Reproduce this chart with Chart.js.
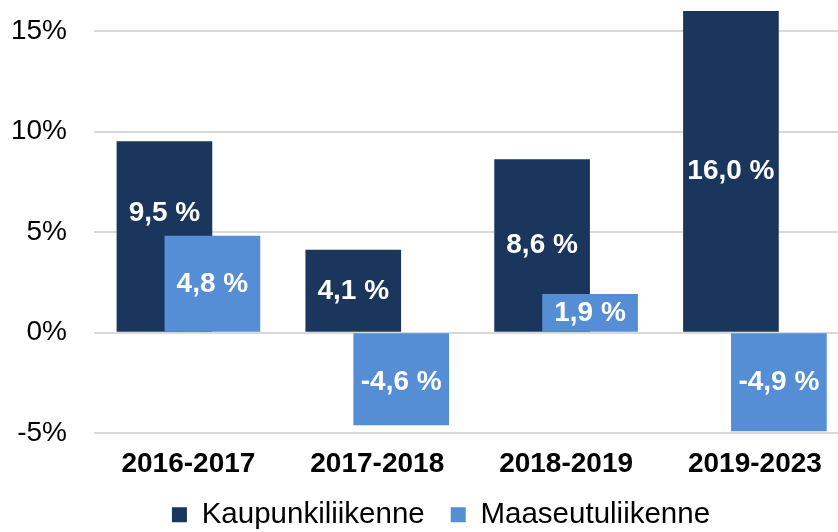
<!DOCTYPE html>
<html>
<head>
<meta charset="utf-8">
<script src="https://cdn.jsdelivr.net/npm/chart.js@4.4.1/dist/chart.umd.min.js"></script>
<style>
html,body{margin:0;padding:0;background:#fff;}
#wrap{width:838px;height:532px;position:relative;}
</style>
</head>
<body>
<div id="wrap"><canvas id="c"></canvas></div>
<script>
const categories = ['2016-2017', '2017-2018', '2018-2019', '2019-2023'];
const seriesNames = ['Kaupunkiliikenne', 'Maaseutuliikenne'];
const kaupunki = [9.5, 4.1, 8.6, 16.0];
const maaseutu = [4.8, -4.6, 1.9, -4.9];
const yTicks = [-5, 0, 5, 10, 15];

const DARK = '#1a365d';
const LIGHT = '#558ed5';
const SHIFT = 0.127;
const FONT = '"Liberation Sans", Arial, sans-serif';

function pts(vals, shift) {
  return vals.map((v, i) => ({ x: i + shift, y: v }));
}
function fmt(v) {
  return v.toFixed(1).replace('.', ',') + ' %';
}

const labelPlugin = {
  id: 'barLabels',
  afterDatasetsDraw(chart) {
    const ctx = chart.ctx;
    ctx.save();
    ctx.fillStyle = '#ffffff';
    ctx.font = 'bold 28px ' + FONT;
    ctx.textAlign = 'center';
    ctx.textBaseline = 'middle';
    chart.data.datasets.forEach((ds, di) => {
      const meta = chart.getDatasetMeta(di);
      meta.data.forEach((bar, i) => {
        const v = ds.data[i].y;
        const y = (bar.y + bar.base) / 2;
        const adj = (ds.labelYAdjust || [])[i] || 0;
        ctx.fillText(fmt(v), bar.x, y + adj);
      });
    });
    ctx.restore();
  }
};

const legendShift = {
  id: 'legendShift',
  afterLayout(chart) {
    if (chart.legend) {
      chart.legend.left += 16;
      chart.legend.right += 16;
    }
  }
};

new Chart(document.getElementById('c'), {
  type: 'bar',
  data: {
    datasets: [
      {
        label: seriesNames[0],
        data: pts(kaupunki, -SHIFT),
        backgroundColor: DARK,
        order: 1,
        labelYAdjust: [-23, 0, 0, 0]
      },
      {
        label: seriesNames[1],
        data: pts(maaseutu, SHIFT),
        backgroundColor: LIGHT,
        order: 0,
        labelYAdjust: [0, 3, 0, 0]
      }
    ]
  },
  options: {
    responsive: true,
    maintainAspectRatio: false,
    animation: false,
    devicePixelRatio: 1,
    layout: { padding: { left: 12, top: 11, right: 0, bottom: -7.5 } },
    datasets: { bar: { barThickness: 95, grouped: false } },
    scales: {
      x: {
        type: 'linear',
        offset: false,
        min: -0.5,
        max: 3.44,
        grid: { display: false, drawTicks: false, offset: false },
        border: { display: false },
        afterBuildTicks(scale) { scale.ticks = categories.map((c, i) => ({ value: i })); },
        afterFit(scale) { scale.paddingLeft = 0; scale.paddingRight = 0; scale.height = 41; },
        ticks: {
          padding: 14,
          autoSkip: false,
          maxRotation: 0,
          color: '#000',
          font: { family: FONT, size: 28, weight: 'bold' },
          callback: v => categories[v]
        }
      },
      y: {
        min: -5,
        max: 16,
        grid: { color: '#d9d9d9', lineWidth: 2, drawTicks: false },
        border: { display: false },
        afterBuildTicks(scale) { scale.ticks = yTicks.map(v => ({ value: v })); },
        afterFit(scale) { scale.paddingTop = 0; scale.paddingBottom = 0; scale.width = 82; },
        ticks: {
          padding: 27,
          color: '#000',
          font: { family: FONT, size: 28 },
          callback: v => v + '%'
        }
      }
    },
    plugins: {
      legend: {
        position: 'bottom',
        labels: {
          boxWidth: 15,
          boxHeight: 15,
          padding: 26,
          color: '#000',
          font: { family: FONT, size: 29.5 },
          sort: (a, b) => a.datasetIndex - b.datasetIndex
        }
      },
      tooltip: { enabled: false }
    }
  },
  plugins: [labelPlugin, legendShift]
});
</script>
</body>
</html>
